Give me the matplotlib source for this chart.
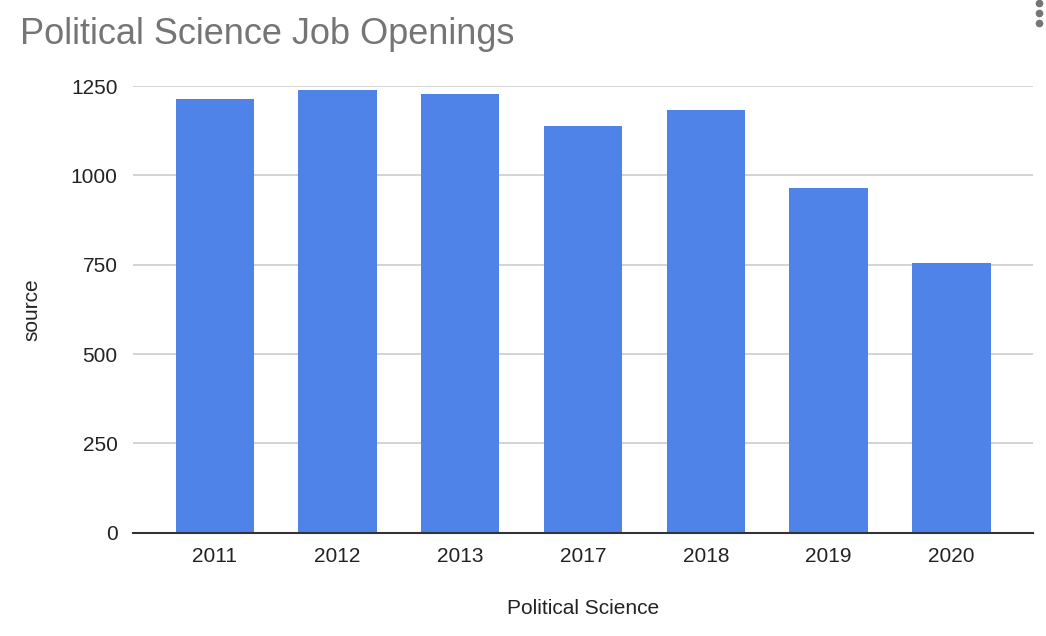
import matplotlib.pyplot as plt

years = ["2011", "2012", "2013", "2017", "2018", "2019", "2020"]
openings = [1213, 1238, 1227, 1137, 1182, 965, 755]
y_ticks = [0, 250, 500, 750, 1000, 1250]

plt.rcParams['font.family'] = ['Liberation Sans', 'DejaVu Sans']

fig = plt.figure(figsize=(10.46, 6.36), dpi=100)
ax = fig.add_axes([133 / 1046, 1 - 532.7 / 636, (1033 - 133) / 1046, (532.7 - 86) / 636])

x = range(len(years))
ax.bar(x, openings, width=0.638, color="#4f83e8", zorder=3)

ax.set_xlim(-0.666, 6.665)
ax.set_ylim(0, 1250)
ax.set_yticks(y_ticks)
ax.set_xticks(list(x))
ax.set_xticklabels(years)
ax.tick_params(axis="both", length=0, labelsize=15, colors="#222222")
ax.tick_params(axis="y", pad=11)
ax.tick_params(axis="x", pad=10)
ax.grid(axis="y", color="#cccccc", linewidth=1.2, zorder=0)
for s in ["top", "right", "left"]:
    ax.spines[s].set_visible(False)
ax.spines["bottom"].set_color("#333333")
ax.spines["bottom"].set_linewidth(1.5)
ax.spines["bottom"].set_zorder(4)

ax.set_ylabel("source", fontsize=15, color="#222222", labelpad=21)
ax.set_xlabel("Political Science", fontsize=15, color="#222222", labelpad=24)

fig.text(20 / 1046, 1 - 34 / 636, "Political Science Job Openings", fontsize=26,
         color="#757575", va="center", ha="left")

# menu dots top right
dots = plt.Line2D([1039 / 1046] * 3, [1 - 3 / 636, 1 - 13 / 636, 1 - 23 / 636],
                  transform=fig.transFigure, marker="o", linestyle="none",
                  markersize=4.5, color="#757575")
fig.add_artist(dots)

fig.savefig("out.png", dpi=100)
